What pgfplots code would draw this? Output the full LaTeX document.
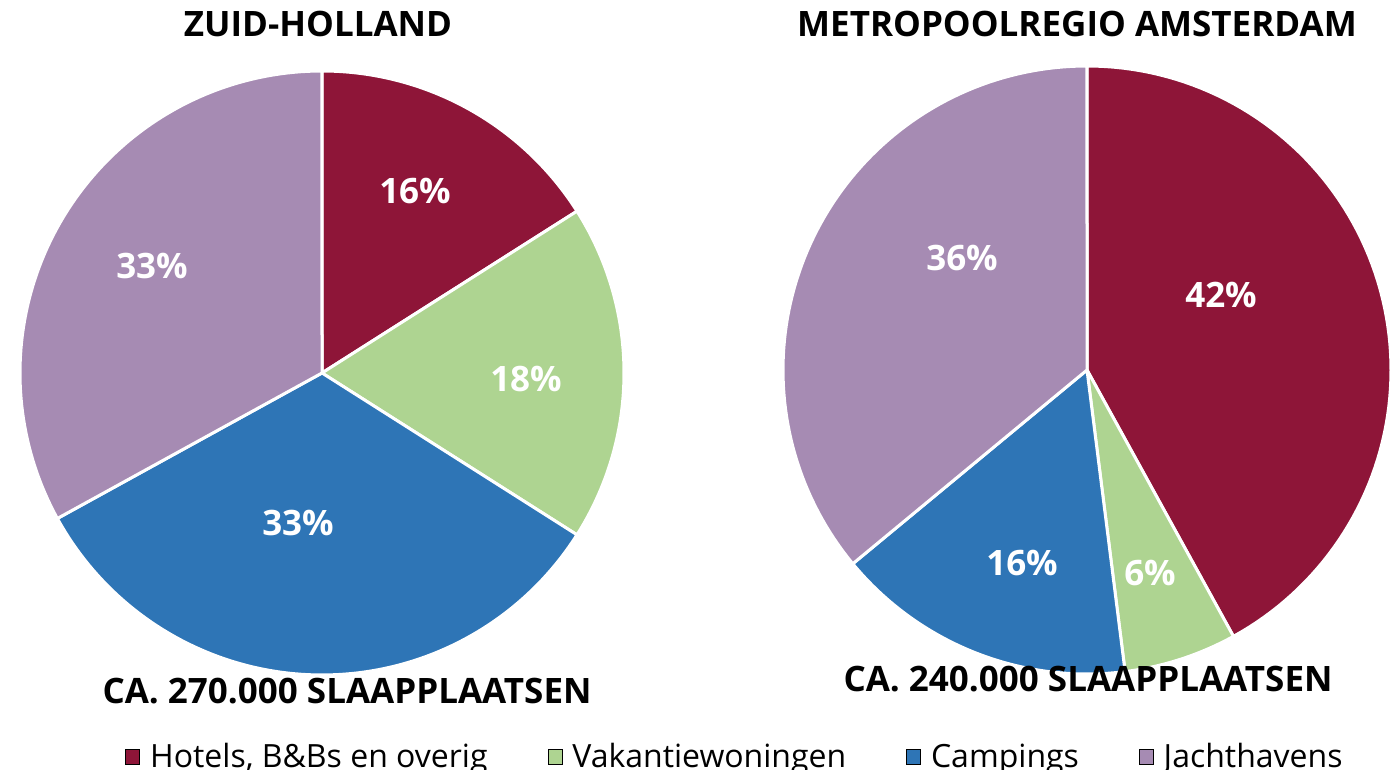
\documentclass[border=0pt]{standalone}
\usepackage{fontspec}
\setmainfont{Open Sans}
\usepackage{pgfplots}
\pgfplotsset{compat=1.18}
\definecolor{hotel}{RGB}{142,21,56}
\definecolor{vak}{RGB}{174,212,145}
\definecolor{camp}{RGB}{46,117,182}
\definecolor{jacht}{RGB}{166,139,179}
% slice: center x, center y, cumulative start %, cumulative end %, colour, radius
\newcommand{\slice}[6]{%
  \addplot[fill=#5, draw=white, line width=1.5pt, line join=round, domain=#3:#4, samples=90, forget plot]
    ({#1+#6*cos(90-3.6*x)},{#2+#6*sin(90-3.6*x)}) -- (axis cs:#1,#2) -- cycle;}
\newcommand{\bfont}{\fontsize{17.5}{21}\selectfont\bfseries}
\begin{document}
\begin{tikzpicture}
\begin{axis}[name=ax, width=699pt, height=385pt, scale only axis,
  xmin=0, xmax=1398, ymin=0, ymax=770, hide axis, clip=false,
  legend columns=4,
  legend image code/.code={\fill[#1] (0pt,-3.5pt) rectangle (7pt,4pt);},
  legend style={draw=none, fill=none, inner sep=0pt, font=\fontsize{16}{19}\selectfont,
    at={(axis cs:736,13)}, anchor=center,
    /tikz/every odd column/.append style={column sep=3pt},
    /tikz/every even column/.append style={column sep=28pt}},
]
% Zuid-Holland: 16, 18, 33, 33
\slice{322}{397}{0}{16}{hotel}{302}
\slice{322}{397}{16}{34}{vak}{302}
\slice{322}{397}{34}{67}{camp}{302}
\slice{322}{397}{67}{100}{jacht}{302}
% Metropoolregio Amsterdam: 42, 6, 16, 36
\slice{1087}{400}{0}{42}{hotel}{304}
\slice{1087}{400}{42}{48}{vak}{304}
\slice{1087}{400}{48}{64}{camp}{304}
\slice{1087}{400}{64}{100}{jacht}{304}

\addlegendimage{fill=hotel}
\addlegendentry{Hotels, B\&Bs en overig}
\addlegendimage{fill=vak}
\addlegendentry{Vakantiewoningen}
\addlegendimage{fill=camp}
\addlegendentry{Campings}
\addlegendimage{fill=jacht}
\addlegendentry{Jachthavens}

\begin{scope}[every node/.style={inner sep=0pt, font=\bfont}]
\node[anchor=base] at (axis cs:318,733) {ZUID-HOLLAND};
\node[anchor=base] at (axis cs:1077,733) {METROPOOLREGIO AMSTERDAM};
\node[anchor=base] at (axis cs:347,66) {CA. 270.000 SLAAPPLAATSEN};
\node[anchor=base] at (axis cs:1088,78) {CA. 240.000 SLAAPPLAATSEN};
\node[text=white] at (axis cs:415,579) {16\%};
\node[text=white] at (axis cs:526,391) {18\%};
\node[text=white] at (axis cs:298,247) {33\%};
\node[text=white] at (axis cs:152,504) {33\%};
\node[text=white] at (axis cs:1221,475) {42\%};
\node[text=white] at (axis cs:1150,197) {6\%};
\node[text=white] at (axis cs:1022,207) {16\%};
\node[text=white] at (axis cs:962,512) {36\%};
\end{scope}
\end{axis}
\pgfresetboundingbox
\path[use as bounding box] (ax.south west) rectangle (ax.north east);
\end{tikzpicture}
\end{document}
